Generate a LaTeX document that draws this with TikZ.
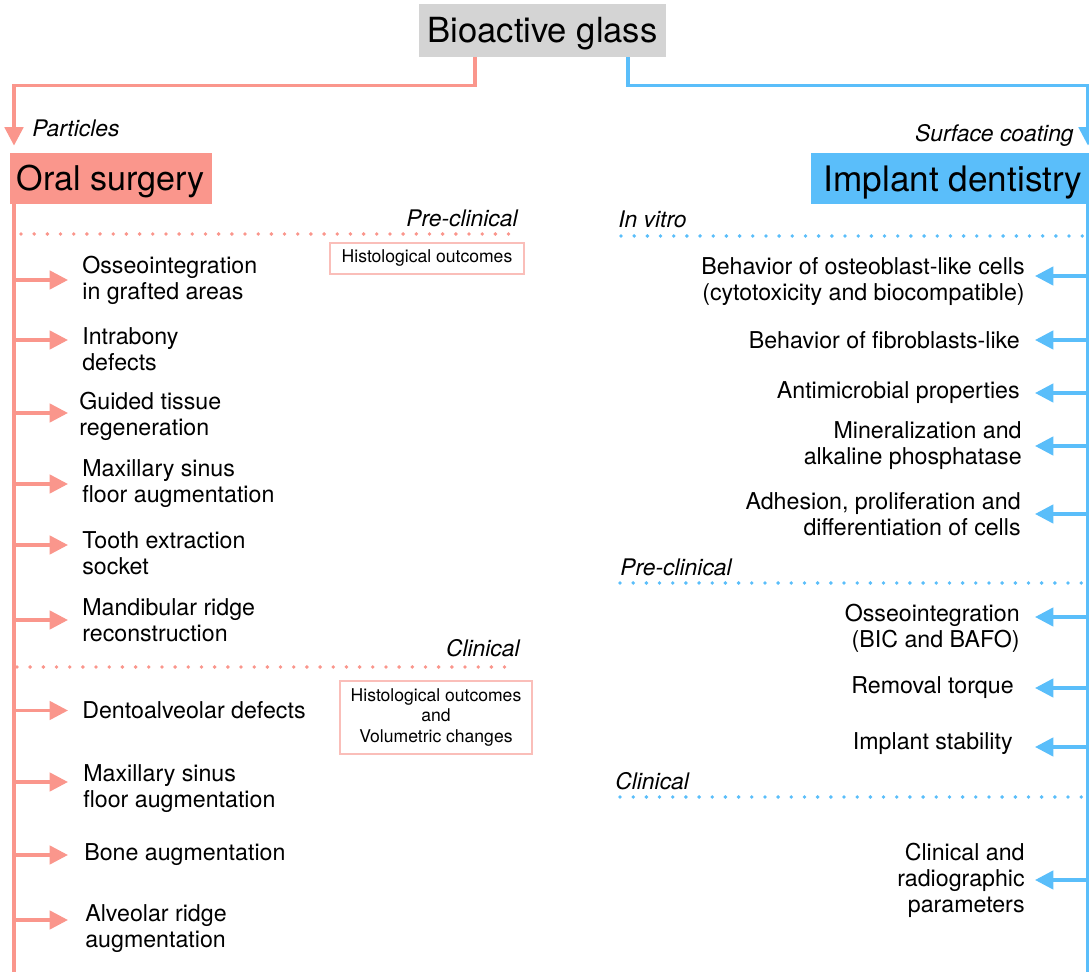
\documentclass[tikz,border=0pt]{standalone}
\usepackage{fontspec}
\setmainfont{TeX Gyre Heros}
\usepackage{tikz}
\usetikzlibrary{arrows.meta, positioning}

\definecolor{oralred}{RGB}{250,150,140}
\definecolor{implblue}{RGB}{90,190,250}
\definecolor{glassgray}{RGB}{212,212,212}
\definecolor{outcomeline}{RGB}{250,190,185}

\tikzstyle{glassbox} = [rectangle, fill=glassgray, minimum width=4.94cm, minimum height=1.06cm, inner sep=0pt, text height=14.2pt, text depth=0pt, font=\fontsize{19.7}{23}\selectfont]
\tikzstyle{oralbox} = [rectangle, fill=oralred, minimum width=4.04cm, minimum height=1.02cm, inner sep=0pt, text height=14pt, text depth=0pt, font=\fontsize{19.4}{23}\selectfont]
\tikzstyle{implbox} = [rectangle, fill=implblue, minimum width=5.68cm, minimum height=1.02cm, inner sep=0pt, text height=14.4pt, text depth=0pt, font=\fontsize{20}{23}\selectfont]
\tikzstyle{leftitem} = [anchor=west, inner sep=0pt, align=left, font=\fontsize{13.2}{14.8}\selectfont]
\tikzstyle{rightitem} = [anchor=east, inner sep=0pt, align=right, font=\fontsize{13.2}{14.8}\selectfont]
\tikzstyle{stage} = [inner sep=0pt, font=\fontsize{13}{15}\selectfont\itshape]
\tikzstyle{outcome} = [rectangle, draw=outcomeline, line width=0.6pt, inner sep=0pt, align=center, font=\fontsize{10}{11.4}\selectfont]
\tikzstyle{redline} = [draw=oralred, line width=2pt]
\tikzstyle{blueline} = [draw=implblue, line width=2pt]
\tikzstyle{redarrow} = [redline, -{Triangle[length=10.5pt, width=10.5pt]}]
\tikzstyle{bluearrow} = [blueline, -{Triangle[length=10.5pt, width=10.5pt]}]
\tikzstyle{reddots} = [draw=oralred, line width=2.2pt, line cap=round, dash pattern=on 0pt off 7.5pt]
\tikzstyle{bluedots} = [draw=implblue, line width=2.2pt, line cap=round, dash pattern=on 0pt off 7.5pt]

\begin{document}
\begin{tikzpicture}[x=0.02cm, y=-0.02cm]
    \useasboundingbox (0,0) rectangle (1089,972);
    \clip (0,0) rectangle (1089,972);

    % root and the two branches
    \node (glass) [glassbox] at (542.5,30.5) {Bioactive glass};
    \node (oral) [oralbox] at (111,178.5) {Oral surgery};
    \node (impl) [implbox] at (953,178.5) {Implant dentistry};
    \coordinate (lbot) at (14,975);
    \coordinate (rbot) at (1088,975);
    \coordinate (ltip) at (68,0);
    \coordinate (rtip) at (1035,0);
    \draw [redarrow, shorten >=4pt] ([xshift=-1.35cm]glass.south) -- ++(0,28) -| (oral.north -| lbot);
    \draw [bluearrow, shorten >=4pt] ([xshift=1.71cm]glass.south) -- ++(0,28) -| (impl.north -| rbot);
    \node (part) [stage, anchor=base west] at (32,137) {Particles};
    \node (surf) [stage, anchor=base east] at (1074,142) {Surface coating};

    % oral surgery
    \draw [redline] (oral.south -| lbot) -- (lbot);
    \node (lpre) [stage, anchor=base east] at (518,227) {Pre-clinical};
    \draw [reddots] (21,234) -- (518,234);
    \node (hist) [outcome, minimum width=3.88cm, minimum height=0.62cm] at (427,258.5) {Histological outcomes};
    \node (o1) [leftitem] at (82,280) {Osseointegration\\in grafted areas};
    \node (o2) [leftitem] at (82,349) {Intrabony\\defects};
    \node (o3) [leftitem] at (79,416) {Guided tissue\\regeneration};
    \node (o4) [leftitem] at (82,484) {Maxillary sinus\\floor augmentation};
    \node (o5) [leftitem] at (82,553) {Tooth extraction\\socket};
    \node (o6) [leftitem] at (82,620) {Mandibular ridge\\reconstruction};
    \draw [redarrow] (lbot |- o1.west) -- (ltip |- o1.west);
    \draw [redarrow, transform canvas={yshift=0.18cm}] (lbot |- o2.west) -- (ltip |- o2.west);
    \draw [redarrow, transform canvas={yshift=0.06cm}] (lbot |- o3.west) -- (ltip |- o3.west);
    \draw [redarrow] (lbot |- o4.west) -- (ltip |- o4.west);
    \draw [redarrow, transform canvas={yshift=0.16cm}] (lbot |- o5.west) -- (ltip |- o5.west);
    \draw [redarrow] (lbot |- o6.west) -- (ltip |- o6.west);

    \node (lclin) [stage, anchor=base east] at (520,657) {Clinical};
    \draw [reddots] (17,667) -- (513,667);
    \node (histvol) [outcome, minimum width=3.84cm, minimum height=1.46cm] at (436,717.5) {Histological outcomes\\and\\Volumetric changes};
    \node (c1) [leftitem] at (82,710.5) {Dentoalveolar defects};
    \node (c2) [leftitem] at (83,789) {Maxillary sinus\\floor augmentation};
    \node (c3) [leftitem] at (84,855) {Bone augmentation};
    \node (c4) [leftitem] at (85,929) {Alveolar ridge\\augmentation};
    \draw [redarrow] (lbot |- c1.west) -- (ltip |- c1.west);
    \draw [redarrow, transform canvas={yshift=0.14cm}] (lbot |- c2.west) -- (ltip |- c2.west);
    \draw [redarrow] (lbot |- c3.west) -- (ltip |- c3.west);
    \draw [redarrow, transform canvas={yshift=0.18cm}] (lbot |- c4.west) -- (ltip |- c4.west);

    % implant dentistry
    \draw [blueline] (impl.south -| rbot) -- (rbot);
    \node (rvitro) [stage, anchor=base west] at (618,228) {In vitro};
    \draw [bluedots] (621,236) -- (1089,236);
    \node (r1) [rightitem] at (1025,282) {Behavior of osteoblast-like cells\\(cytotoxicity and biocompatible)};
    \node (r2) [rightitem] at (1020,340) {Behavior of fibroblasts-like};
    \node (r3) [rightitem] at (1020,393) {Antimicrobial properties};
    \node (r4) [rightitem] at (1022,446) {Mineralization and\\alkaline phosphatase};
    \node (r5) [rightitem] at (1021,514) {Adhesion, proliferation and\\differentiation of cells};
    \draw [bluearrow, transform canvas={yshift=0.12cm}] (rbot |- r1.east) -- (rtip |- r1.east);
    \draw [bluearrow] (rbot |- r2.east) -- (rtip |- r2.east);
    \draw [bluearrow] (rbot |- r3.east) -- (rtip |- r3.east);
    \draw [bluearrow] (rbot |- r4.east) -- (rtip |- r4.east);
    \draw [bluearrow] (rbot |- r5.east) -- (rtip |- r5.east);

    \node (rpre) [stage, anchor=base west] at (620,576) {Pre-clinical};
    \draw [bluedots] (620,583) -- (1089,583);
    \node (p1) [rightitem] at (1020,628) {Osseointegration\\(BIC and BAFO)};
    \node (p2) [rightitem] at (1014,688) {Removal torque};
    \node (p3) [rightitem] at (1013,744) {Implant stability};
    \draw [bluearrow, transform canvas={yshift=0.22cm}] (rbot |- p1.east) -- (rtip |- p1.east);
    \draw [bluearrow] (rbot |- p2.east) -- (rtip |- p2.east);
    \draw [bluearrow, transform canvas={yshift=-0.06cm}] (rbot |- p3.east) -- (rtip |- p3.east);

    \node (rclin) [stage, anchor=base west] at (615,790) {Clinical};
    \draw [bluedots] (620,797) -- (1089,797);
    \node (k1) [rightitem] at (1025,880) {Clinical and\\radiographic\\parameters};
    \draw [bluearrow] (rbot |- k1.east) -- (rtip |- k1.east);
\end{tikzpicture}
\end{document}
